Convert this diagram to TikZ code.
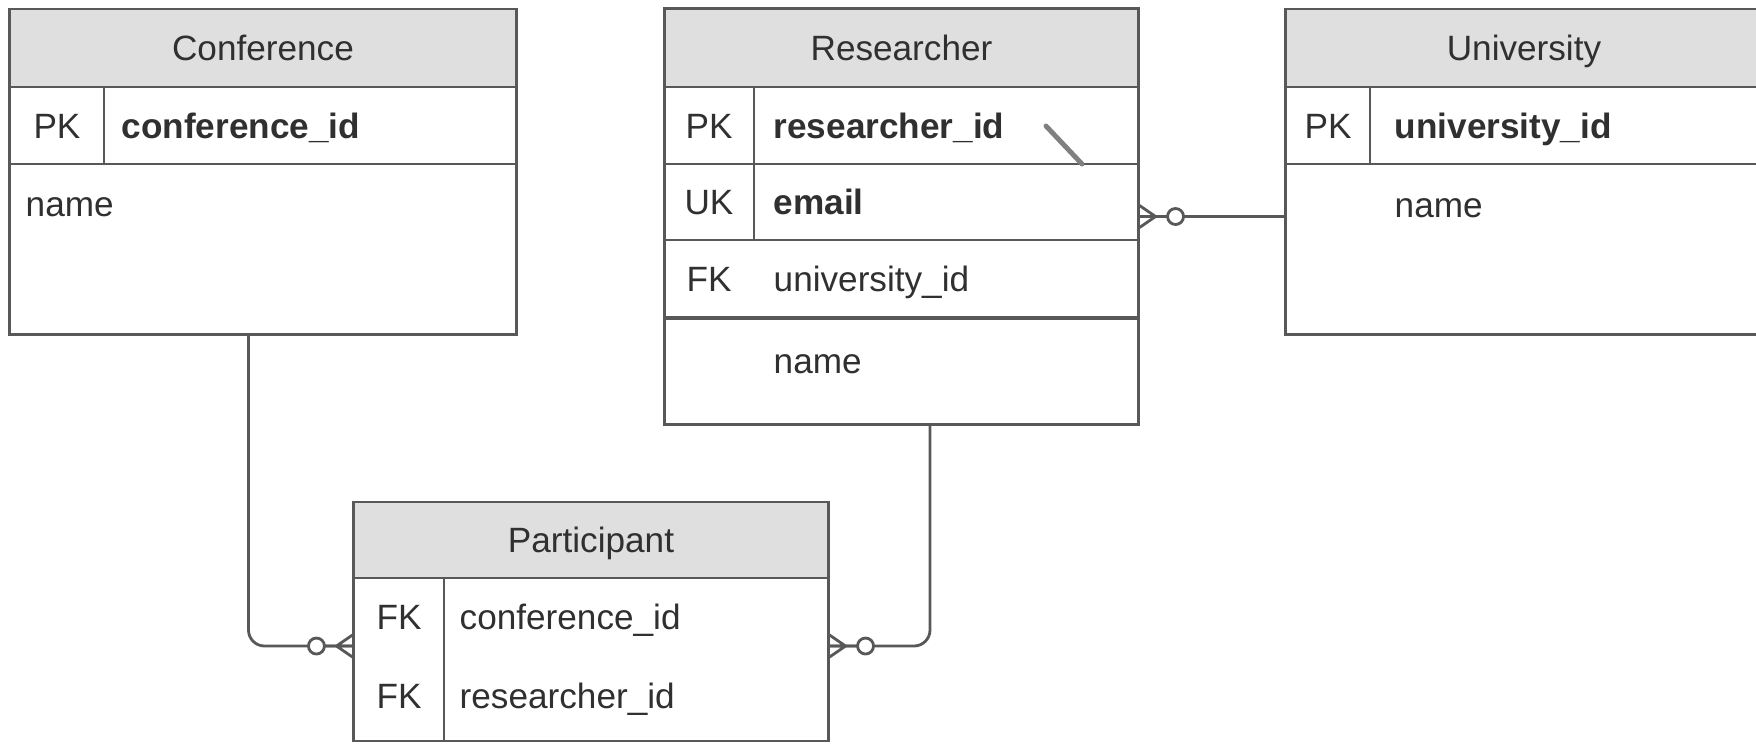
\documentclass[tikz,border=0pt]{standalone}
\usepackage{fontspec}
\setmainfont{Liberation Sans}

\definecolor{erline}{RGB}{88,88,88}
\definecolor{erhead}{RGB}{223,223,223}
\definecolor{ertext}{RGB}{48,48,48}

\tikzset{
    entity/.style={draw=erline, line width=0.8pt, fill=white, inner sep=0pt},
    enthead/.style={draw=erline, line width=0.8pt, fill=erhead, text=ertext,
        minimum height=0.78cm, inner sep=0pt, text height=7.2pt, text depth=0pt},
    keytext/.style={text=ertext, inner sep=0pt, text height=7.2pt, text depth=0pt},
    attr/.style={text=ertext, anchor=west, inner sep=0pt, text height=7.2pt, text depth=0pt},
    erlink/.style={draw=erline, line width=0.8pt},
    zeromany/.pic={
        \draw[erlink] (0,-11) -- (16,0) -- (0,11) (0,0) -- (28,0);
        \draw[erlink, fill=white] (36,0) circle[radius=8];
    }
}

\begin{document}
\begin{tikzpicture}[x=0.01cm, y=-0.01cm]
    \useasboundingbox (0,0) rectangle (1756,744);

    % Conference
    \node[entity, minimum width=5.06cm, minimum height=3.25cm] (conference) at (263,171.5) {};
    \node[enthead, minimum width=5.06cm] (conference head) at (263,48) {Conference};
    \draw[erlink] (10,164) -- (516,164);
    \draw[erlink] (104,87) -- (104,164);
    \node[keytext] (conference pk) at (57,126) {PK};
    \node[attr, font=\bfseries] (conference id) at (121,126) {conference\_id};
    \node[attr] (conference name) at (25,204) {name};

    % Researcher
    \node[entity, minimum width=4.73cm, minimum height=4.15cm] (researcher) at (901.5,216.5) {};
    \node[enthead, minimum width=4.73cm] (researcher head) at (901.5,48) {Researcher};
    \draw[erlink] (665,164) -- (1138,164);
    \draw[erlink] (665,240) -- (1138,240);
    \draw[erlink, line width=1pt] (665,318) -- (1138,318);
    \draw[erlink] (754,87) -- (754,240);
    \node[keytext] (researcher pk) at (709,126) {PK};
    \node[keytext] (researcher uk) at (709,202) {UK};
    \node[keytext] (researcher fk) at (709,279) {FK};
    \node[attr, font=\bfseries] (researcher id) at (773,126) {researcher\_id};
    \node[attr, font=\bfseries] (researcher email) at (773,202) {email};
    \node[attr] (researcher uni) at (773,279) {university\_id};
    \node[attr] (researcher name) at (773,361) {name};
    \draw[gray, line width=1.4pt, line cap=round] (1046,126) -- (1082,164);

    % University
    \node[entity, minimum width=4.76cm, minimum height=3.25cm] (university) at (1524,171.5) {};
    \node[enthead, minimum width=4.76cm] (university head) at (1524,48) {University};
    \draw[erlink] (1286,164) -- (1762,164);
    \draw[erlink] (1370,87) -- (1370,164);
    \node[keytext] (university pk) at (1328,126) {PK};
    \node[attr, font=\bfseries] (university id) at (1394,126) {university\_id};
    \node[attr] (university name) at (1394,205) {name};

    % Participant
    \node[entity, minimum width=4.74cm, minimum height=2.39cm] (participant) at (591,621.5) {};
    \node[enthead, minimum width=4.74cm, minimum height=0.76cm] (participant head) at (591,540) {Participant};
    \draw[erlink] (444,578) -- (444,741);
    \node[keytext] (participant fk1) at (399,617) {FK};
    \node[keytext] (participant fk2) at (399,696) {FK};
    \node[attr] (participant conf) at (459,617) {conference\_id};
    \node[attr] (participant res) at (459,696) {researcher\_id};

    % links
    \draw[erlink, rounded corners=0.16cm] ([xshift=-0.145cm]conference.south) |- ([yshift=-0.245cm]participant.west);
    \draw[erlink, rounded corners=0.16cm] ([xshift=0.285cm]researcher.south) |- ([yshift=-0.245cm]participant.east);
    \draw[erlink] (researcher.east) -- (researcher.east -| university.west);
    \pic[rotate=180] at ([yshift=-0.245cm]participant.west) {zeromany};
    \pic at ([yshift=-0.245cm]participant.east) {zeromany};
    \pic at (researcher.east) {zeromany};
\end{tikzpicture}
\end{document}
